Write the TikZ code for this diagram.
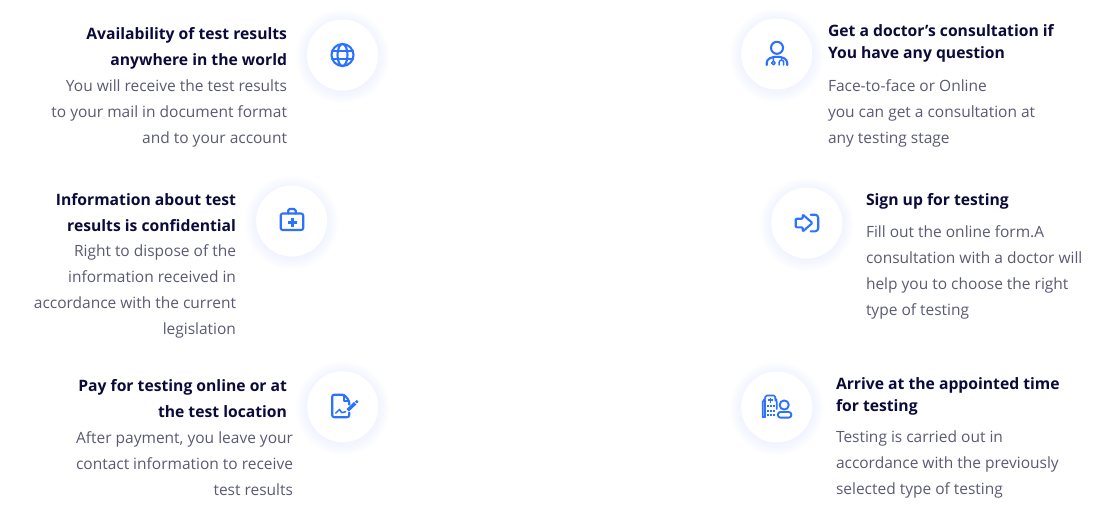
\documentclass[tikz,border=0pt]{standalone}
\usepackage{fontspec}
\setmainfont{Open Sans}
\usetikzlibrary{positioning}
\definecolor{iconblue}{HTML}{2B72FF}
\definecolor{headcol}{HTML}{0B0B3B}
\definecolor{bodycol}{HTML}{5A5A72}
\definecolor{glowcol}{HTML}{C9D4FF}
\tikzset{
  every node/.style={inner sep=0pt, outer sep=0pt},
  iconcirc/.style={circle, fill=white, minimum size=71pt},
  iconline/.style={draw=iconblue, line width=2.1pt, line join=round, line cap=round},
  headl/.style={font=\fontsize{15.7}{26}\selectfont\bfseries, text=headcol, align=right, anchor=north east, execute at begin node=\strut, execute at end node=\strut},
  headr/.style={font=\fontsize{15.7}{22}\selectfont\bfseries, text=headcol, align=left, anchor=north west, execute at begin node=\strut, execute at end node=\strut},
  bodyl/.style={font=\fontsize{15.5}{26}\selectfont, text=bodycol, align=right, anchor=north east, execute at begin node=\strut, execute at end node=\strut},
  bodyr/.style={font=\fontsize{15.5}{26}\selectfont, text=bodycol, align=left, anchor=north west, execute at begin node=\strut, execute at end node=\strut},
  globe/.pic={
    \draw[iconline] (0,0) circle (11);
    \draw[iconline] (0,0) ellipse (5 and 11);
    \draw[iconline] (-10.4,-3.6) -- (10.4,-3.6) (-10.4,3.6) -- (10.4,3.6);
  },
  medcase/.pic={
    \draw[iconline, rounded corners=2pt] (-11,-7.5) rectangle (11.5,9);
    \draw[iconline, rounded corners=1.5pt] (-3.5,-7.5) -- (-3.5,-12) -- (4,-12) -- (4,-7.5);
    \draw[iconline, line width=3pt, line cap=butt] (-4.2,1) -- (4.8,1) (0.3,-3.5) -- (0.3,5.5);
  },
  docpen/.pic={
    \draw[iconline, rounded corners=2pt] (6.5,-2) -- (6.5,-6) -- (1.5,-12) -- (-10.5,-12) -- (-10.5,10.5) -- (6.5,10.5) -- (6.5,6);
    \draw[iconline] (1.5,-12) -- (1.5,-6) -- (6.5,-6);
    \draw[iconline, line width=1.5pt] (-7,6.5) -- (-3.3,2.7) -- (-1,6) -- (3,5);
    \draw[iconline, line width=3.4pt, line cap=butt] (5,3.6) -- (12.5,-3.5);
    \draw[iconline, line width=2.6pt, line cap=butt] (13.2,-4.2) -- (15,-5.8);
  },
  doctor/.pic={
    \draw[iconline] (0.3,-6.2) circle (6);
    \draw[iconline] (-10,11) -- (-10,9) .. controls (-10,4.5) and (-5,2.8) .. (0.3,2.8) .. controls (5.5,2.8) and (10.5,4.5) .. (10.5,9) -- (10.5,11);
    \draw[iconline, line width=1.5pt] (-3.3,3) -- (-3.3,7) (-3.3,9) circle (1.8);
    \draw[iconline, line width=1.5pt] (2.5,11) -- (2.5,8) .. controls (2.5,5.5) and (7,5.5) .. (7,8) -- (7,11);
    \draw[iconline, line width=1.5pt] (4.7,3) -- (4.7,6);
  },
  signin/.pic={
    \draw[iconline, rounded corners=1pt] (-11,-4.3) -- (-4,-4.3) -- (-4,-8.5) -- (5.7,0) -- (-4,8.5) -- (-4,4.3) -- (-11,4.3) -- cycle;
    \draw[iconline, rounded corners=3pt] (4,-8.3) -- (11.5,-8.3) -- (11.5,8.3) -- (4,8.3);
  },
  clinic/.pic={
    \draw[iconline, line width=1.7pt, rounded corners=1.5pt] (-14,10) -- (-14,-7) -- (-11.5,-7) -- (-11.5,-11.5) -- (-1.5,-11.5) -- (-1.5,-7) -- (0,-7) -- (0,2);
    \draw[iconline, line width=1.7pt] (-11.5,-7) -- (-11.5,10) (-14,10) -- (-11.5,10);
    \draw[iconline, line width=1.4pt, line cap=butt] (-9,-7) -- (-4,-7) (-6.5,-9.5) -- (-6.5,-4.5);
    \foreach \wx in {-9,-6,-3} \foreach \wy in {-1,3.5,8}
      \fill[iconblue] (\wx-1,\wy-1) rectangle (\wx+1,\wy+1);
    \draw[iconline, line width=1.9pt] (7.5,-2) circle (4.6);
    \draw[iconline, line width=1.9pt, rounded corners=2.5pt] (1.2,10.6) -- (1.2,5) -- (14.6,5) -- (14.6,10.6) -- cycle;
  }
}
\newcommand{\IconDisc}[2]{%
  \foreach \rr in {36,37,...,47}
    \fill[glowcol, opacity=.022] (#1,#2+1.5) circle (\rr);
}
\begin{document}
\begin{tikzpicture}[x=1pt, y=-1pt]
  \useasboundingbox (0,0) rectangle (1102,512);

  % round icon holders
  \IconDisc{342.5}{55}
  \IconDisc{291.7}{221}
  \IconDisc{342.7}{406.7}
  \IconDisc{776.7}{54}
  \IconDisc{806.7}{223}
  \IconDisc{776.7}{407}
  \node [iconcirc] (avail) at (342.5,55) {};
  \node [iconcirc] (conf) at (291.7,221) {};
  \node [iconcirc] (pay) at (342.7,406.7) {};
  \node [iconcirc] (doc) at (776.7,54) {};
  \node [iconcirc] (sign) at (806.7,223) {};
  \node [iconcirc] (arrive) at (776.7,407) {};

  \pic at (avail) {globe};
  \pic at (conf) {medcase};
  \pic at (pay) {docpen};
  \pic at (doc) {doctor};
  \pic at (sign) {signin};
  \pic at (arrive) {clinic};

  % left column
  \node [headl] (availh) at (287,27.6) {Availability of test results\\anywhere in the world};
  \node [bodyl, below=6pt of availh.south east, anchor=north east] (availb) {You will receive the test results\\to your mail in document format\\and to your account};

  \node [headl] (confh) at (236,193.8) {Information about test\\results is confidential};
  \node [bodyl, below=5pt of confh.south east, anchor=north east] (confb) {Right to dispose of the\\information received in\\accordance with the current\\legislation};

  \node [headl] (payh) at (287,379.8) {Pay for testing online or at\\the test location};
  \node [bodyl, below=6pt of payh.south east, anchor=north east, xshift=6pt] (payb) {After payment, you leave your\\contact information to receive\\test results};

  % right column
  \node [headr] (doch) at (828,24.6) {Get a doctor's consultation if\\You have any question};
  \node [bodyr, below=14.2pt of doch.south west, anchor=north west] (docb) {Face-to-face or Online\\you can get a consultation at\\any testing stage};

  \node [headr] (signh) at (866,189.6) {Sign up for testing};
  \node [bodyr, below=14pt of signh.south west, anchor=north west] (signb) {Fill out the online form.A\\consultation with a doctor will\\help you to choose the right\\type of testing};

  \node [headr] (arriveh) at (836,377.6) {Arrive at the appointed time\\for testing};
  \node [bodyr, below=12.2pt of arriveh.south west, anchor=north west] (arriveb) {Testing is carried out in\\accordance with the previously\\selected type of testing};
\end{tikzpicture}
\end{document}
